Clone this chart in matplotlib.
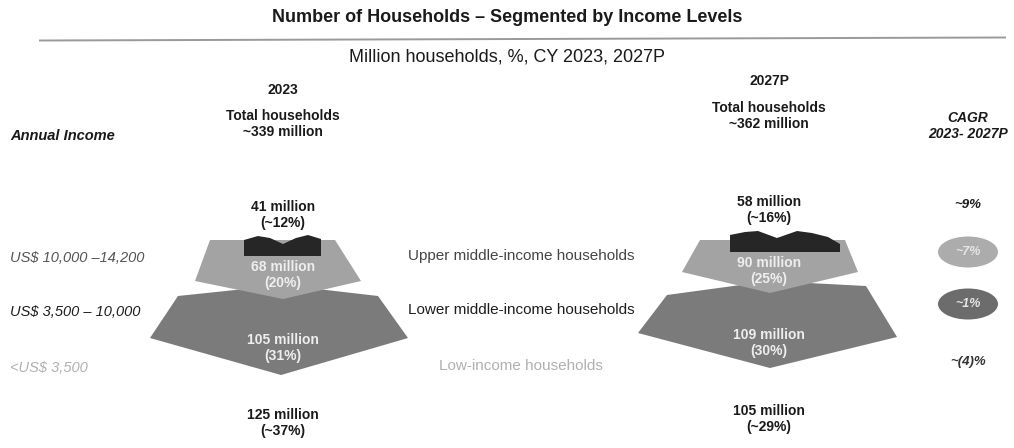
import matplotlib
matplotlib.use("Agg")
import matplotlib.pyplot as plt
from matplotlib.patches import Polygon, Ellipse

# Household segments, bottom (low income) to top (high income)
segments = ["Low-income households", "Lower middle-income households",
            "Upper middle-income households", "High-income households"]
income_bands = ["<US$ 3,500", "US$ 3,500 \u2013 10,000", "US$ 10,000 \u201314,200", ""]
years = ["2023", "2027P"]
totals = [339, 362]
households_2023 = [125, 105, 68, 41]
share_2023 = ["~37%", "31%", "20%", "~12%"]
households_2027 = [105, 109, 90, 58]
share_2027 = ["~29%", "30%", "25%", "~16%"]
cagr = ["~(4)%", "~1%", "~7%", "~9%"]

SANS = ["Liberation Sans", "DejaVu Sans"]
plt.rcParams["font.family"] = SANS

fig = plt.figure(figsize=(10.14, 4.48), dpi=100)
ax = fig.add_axes([0, 0, 1, 1])
ax.set_xlim(0, 1014)
ax.set_ylim(448, 0)
ax.axis("off")

# Header
ax.text(507, 18, "Number of Households \u2013 Segmented by Income Levels",
        ha="center", va="center", fontsize=13, fontweight="bold",
        color="#1a1a1a")
ax.plot([40, 1005], [40.5, 37.5], color="#9a9a9a", lw=1.4)
ax.text(507, 57, "Million households, %, CY 2023, 2027P", ha="center",
        va="center", fontsize=13, color="#1a1a1a")

# Pyramid geometry: (lower slab, upper slab, dark top block) per year
pyramids = [
    dict(cx=283,
         lower=[(150, 338), (178, 296), (283, 285), (378, 296), (408, 338), (281, 375)],
         upper=[(210, 240), (335, 240), (361, 281), (283, 299), (195, 281)],
         top=[(244, 256), (244, 240), (258, 236), (270, 238), (283, 244),
              (296, 238), (308, 235), (321, 239), (321, 256)],
         year_y=90, total_y=124, label_y=[423, 348, 275, 215]),
    dict(cx=769,
         lower=[(638, 333), (667, 295), (770, 281), (866, 286), (897, 337), (770, 368)],
         upper=[(700, 240), (845, 240), (858, 272), (770, 293), (682, 272)],
         top=[(730, 252), (730, 235), (745, 232), (758, 231), (777, 238),
              (797, 231), (812, 233), (828, 237), (840, 244), (840, 252)],
         year_y=81, total_y=116, label_y=[419, 343, 271, 210]),
]
values = [households_2023, households_2027]
shares = [share_2023, share_2027]

for p, yr, tot, vals, shr in zip(pyramids, years, totals, values, shares):
    ax.add_patch(Polygon(p["lower"], closed=True, fc="#7b7b7b", ec="none"))
    ax.add_patch(Polygon(p["upper"], closed=True, fc="#a3a3a3", ec="none"))
    ax.add_patch(Polygon(p["top"], closed=True, fc="#262626", ec="none"))
    ax.text(p["cx"], p["year_y"], yr, ha="center", va="center",
            fontsize=10, fontweight="bold", color="#1a1a1a")
    ax.text(p["cx"], p["total_y"], f"Total households\n~{tot} million",
            ha="center", va="center", fontsize=10, fontweight="bold",
            color="#1a1a1a", linespacing=1.15)
    for i, (v, s) in enumerate(zip(vals, shr)):
        inside = i in (1, 2)
        ax.text(p["cx"], p["label_y"][i], f"{v} million\n({s})",
                ha="center", va="center", fontsize=10, fontweight="bold",
                color="#eeeeee" if inside else "#1a1a1a", linespacing=1.15)

# Segment names between the pyramids
seg_y = [366, 310, 256]
seg_color = ["#b0b0b0", "#1e1e1e", "#454545"]
for name, y, c in zip(segments[:3], seg_y, seg_color):
    ax.text(521, y, name, ha="center", va="center", fontsize=11, color=c)

# Annual income column
ax.text(10, 136, "Annual Income", ha="left", va="center", fontsize=10.5,
        fontweight="bold", fontstyle="italic", color="#1a1a1a")
band_y = [368, 312, 258]
band_color = ["#b0b0b0", "#1e1e1e", "#555555"]
for band, y, c in zip(income_bands[:3], band_y, band_color):
    ax.text(10, y, band, ha="left", va="center", fontsize=10.5,
            fontstyle="italic", color=c)

# CAGR column
ax.text(968, 126, "CAGR\n2023- 2027P", ha="center", va="center", fontsize=10,
        fontweight="bold", fontstyle="italic", color="#1a1a1a", linespacing=1.2)
cagr_y = [362, 304, 252, 205]
bubble = {1: "#6c6c6c", 2: "#acacac"}
for i, (g, y) in enumerate(zip(cagr, cagr_y)):
    if i in bubble:
        ax.add_patch(Ellipse((968, y), 60, 31, fc=bubble[i], ec="none"))
        ax.text(968, y, g, ha="center", va="center", fontsize=9,
                fontweight="bold", fontstyle="italic", color="#e6e6e6")
    else:
        ax.text(968, y, g, ha="center", va="center", fontsize=9.5,
                fontweight="bold", fontstyle="italic",
                color="#1a1a1a" if i == 3 else "#333333")

fig.savefig("out.png", dpi=100)
